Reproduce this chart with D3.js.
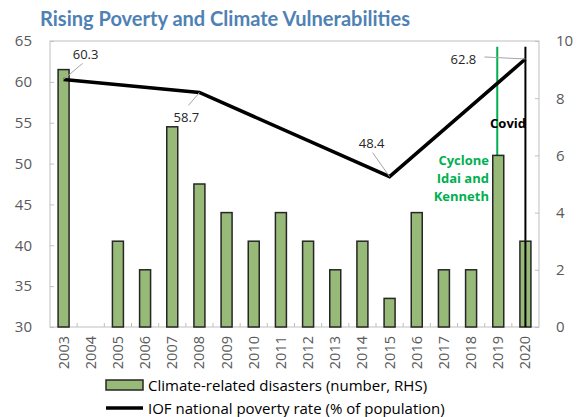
<!DOCTYPE html>
<html>
<head>
<meta charset="utf-8">
<script src="https://cdn.jsdelivr.net/npm/d3@7/dist/d3.min.js"></script>
<style>
  body { margin: 0; background: #fff; }
  svg { display: block; font-family: "Open Sans", "Noto Sans", sans-serif; }
</style>
</head>
<body>
<svg id="chart" width="582" height="417"></svg>
<script>
// Years on the category axis
const years = ["2003","2004","2005","2006","2007","2008","2009","2010","2011",
               "2012","2013","2014","2015","2016","2017","2018","2019","2020"];
// Climate-related disasters per year (right-hand scale)
const disasters = [9,0,3,2,7,5,4,3,4,3,2,3,1,4,2,2,6,3];
// IOF national poverty rate survey points (left-hand scale)
const povertyYears = ["2003","2008","2015","2020"];
const povertyRate = [60.3, 58.7, 48.4, 62.8];
const leftTicks = [30,35,40,45,50,55,60,65];
const rightTicks = [0,2,4,6,8,10];
// Event markers
const events = [
  {year: "2019", label: ["Cyclone","Idai and","Kenneth"], color: "#00b050"},
  {year: "2020", label: ["Covid"], color: "#000000"}
];

const svg = d3.select("#chart");
const m = {left: 50, right: 539, top: 41, bottom: 327};

const xc = d => m.left + (m.right - m.left) / years.length * (years.indexOf(d) + 0.5);
const yL = d3.scaleLinear().domain([30, 65]).range([m.bottom, m.top]);
const yR = d3.scaleLinear().domain([0, 10]).range([m.bottom, m.top]);
const bw = 11;

// Plot frame
svg.append("rect").attr("x", m.left).attr("y", m.top)
  .attr("width", m.right - m.left).attr("height", m.bottom - m.top)
  .attr("fill", "none").attr("stroke", "#bfbfbf").attr("stroke-width", 1);

// Title
svg.append("text").attr("x", 40).attr("y", 26)
  .attr("font-family", "Lato, 'Open Sans', sans-serif")
  .attr("font-size", 20.5).attr("font-weight", "bold").attr("fill", "#4f81b4")
  .attr("textLength", 370).attr("lengthAdjust", "spacingAndGlyphs")
  .text("Rising Poverty and Climate Vulnerabilities");

// Left axis
const gL = svg.append("g").attr("transform", `translate(${m.left},0)`)
  .call(d3.axisLeft(yL).tickValues(leftTicks).tickSize(-4).tickPadding(18));
// Right axis
const gR = svg.append("g").attr("transform", `translate(${m.right},0)`)
  .call(d3.axisRight(yR).tickValues(rightTicks).tickSize(-4).tickPadding(17));
[gL, gR].forEach(g => {
  g.select(".domain").remove();
  g.selectAll(".tick line").attr("stroke", "#bfbfbf");
  g.selectAll(".tick text").attr("font-size", 15).attr("fill", "#595959")
    .attr("font-family", "Open Sans, sans-serif");
});

// Bottom category ticks at band boundaries
const step = (m.right - m.left) / years.length;
svg.append("g").selectAll("line").data(d3.range(1, years.length)).join("line")
  .attr("x1", i => m.left + i * step).attr("x2", i => m.left + i * step)
  .attr("y1", m.bottom).attr("y2", m.bottom - 4)
  .attr("stroke", "#bfbfbf");

// Year labels, rotated
svg.append("g").selectAll("text").data(years).join("text")
  .attr("transform", d => `translate(${xc(d) + 5},${m.bottom + 9}) rotate(-90)`)
  .attr("text-anchor", "end").attr("font-size", 14.5).attr("fill", "#595959")
  .text(d => d);

// Event marker lines
events.forEach(e => {
  const ex = xc(e.year) - (e.year === "2019" ? 1 : 0);
  svg.append("line").attr("x1", ex).attr("x2", ex)
    .attr("y1", yL(64.3)).attr("y2", m.bottom)
    .attr("stroke", e.color).attr("stroke-width", 2);
});

// Disaster bars
svg.append("g").selectAll("rect").data(years.map((y, i) => ({y, v: disasters[i]})).filter(d => d.v > 0))
  .join("rect")
  .attr("x", d => xc(d.y) - bw / 2).attr("width", bw)
  .attr("y", d => yR(d.v)).attr("height", d => yR(0) - yR(d.v))
  .attr("fill", "#98ba79").attr("stroke", "#262626").attr("stroke-width", 1.5);

// Black marker line drawn on top of 2020 bar
svg.append("line").attr("x1", xc("2020")).attr("x2", xc("2020"))
  .attr("y1", yR(3)).attr("y2", m.bottom).attr("stroke", "#000").attr("stroke-width", 2);

// Poverty rate line
const pts = povertyYears.map((y, i) => [xc(y), yL(povertyRate[i])]);
svg.append("path").attr("d", d3.line()(pts))
  .attr("fill", "none").attr("stroke", "#000").attr("stroke-width", 3.5)
  .attr("stroke-linejoin", "miter");

// Data labels with leader lines
const labelOffsets = [
  {dx: 22, dy: -25, lx: 19, ly: -16},
  {dx: -13, dy: 25, lx: -11, ly: 13},
  {dx: -18, dy: -34, lx: -17, ly: -24},
  {dx: -62, dy: 0, lx: -41, ly: -2}
];
povertyRate.forEach((v, i) => {
  const [px, py] = pts[i];
  const o = labelOffsets[i];
  svg.append("line").attr("x1", px).attr("y1", py)
    .attr("x2", px + o.lx).attr("y2", py + o.ly)
    .attr("stroke", "#a6a6a6").attr("stroke-width", 1);
  svg.append("text").attr("x", px + o.dx).attr("y", py + o.dy)
    .attr("text-anchor", "middle").attr("dominant-baseline", "central")
    .attr("font-size", 13).attr("fill", "#262626").text(v.toFixed(1));
});

// Event annotations
const cyc = svg.append("text").attr("text-anchor", "end").attr("font-weight", "bold")
  .attr("font-size", 13).attr("fill", "#00b050");
events[0].label.forEach((t, i) => {
  cyc.append("tspan").attr("x", 489).attr("y", 165 + i * 18).text(t);
});
svg.append("text").attr("x", 526).attr("y", 128).attr("text-anchor", "end")
  .attr("font-weight", "bold").attr("font-size", 13).attr("fill", "#000").text(events[1].label[0]);

// Legend
const lg = svg.append("g");
lg.append("rect").attr("x", 106).attr("y", 380).attr("width", 37).attr("height", 10)
  .attr("fill", "#98ba79").attr("stroke", "#262626").attr("stroke-width", 1.5);
lg.append("text").attr("x", 148).attr("y", 385).attr("dominant-baseline", "central")
  .attr("font-size", 15).attr("fill", "#000").text("Climate-related disasters (number, RHS)");
lg.append("line").attr("x1", 106).attr("x2", 143).attr("y1", 408).attr("y2", 408)
  .attr("stroke", "#000").attr("stroke-width", 3.5);
lg.append("text").attr("x", 148).attr("y", 408).attr("dominant-baseline", "central")
  .attr("font-size", 15).attr("fill", "#000").text("IOF national poverty rate (% of population)");
</script>
</body>
</html>
